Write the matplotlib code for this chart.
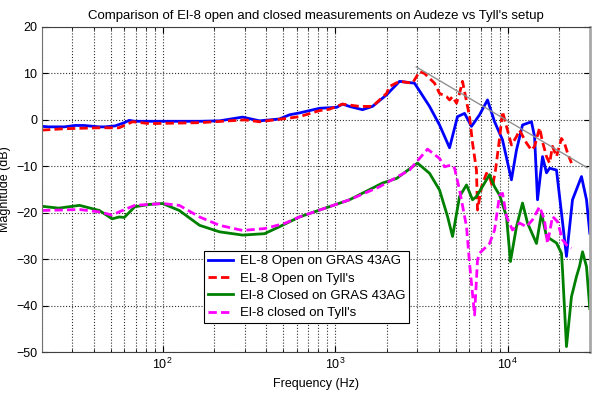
import matplotlib
matplotlib.use('Agg')

import matplotlib.pyplot as plt
from matplotlib.ticker import LogLocator, NullFormatter, MultipleLocator

plt.rcParams.update({
    'font.family': 'Liberation Sans',
    'font.size': 9,
    'mathtext.default': 'regular',
})

# --- данные (частота в Гц, уровень в дБ) ---
open_gras_f = [20, 22, 27, 31, 35, 43, 46, 53, 60, 64, 69, 100, 164, 214, 291,
               365, 476, 545, 622, 813, 1021, 1105, 1213, 1443, 1649, 1990, 2366,
               2890, 3532, 4036, 4613, 5129, 5636, 6182, 6886, 7656, 8414, 9354,
               10540, 11270, 12220, 13770, 14350, 14930, 15960, 16830, 17530,
               19230, 20550, 21970, 23810, 26850, 28710, 30000]
open_gras_db = [-1.4, -1.5, -1.5, -1.2, -1.2, -1.5, -1.5, -1.3, -0.6, -0.1, -0.3,
                -0.3, -0.3, -0.2, 0.6, -0.2, 0.2, 1.1, 1.5, 2.5, 2.7, 3.4, 2.9,
                2.2, 2.9, 5.4, 8.3, 7.9, 2.9, -1.1, -6.0, 0.7, 1.4, -1.4, 1.1, 4.3,
                -0.4, -4.3, -12.9, -6.5, -1.1, -0.4, -3.6, -17.2, -7.9, -11.4,
                -10.4, -10.8, -20.0, -29.4, -17.2, -12.2, -17.2, -24.4]

open_tyll_f = [20, 27, 43, 56, 67, 84, 164, 299, 365, 545, 622, 813, 929, 1105,
               1387, 1649, 1990, 2070, 2366, 2812, 3090, 3303, 3776, 4036, 4431,
               4613, 4801, 5063, 5272, 5483, 5714, 6025, 6270, 6607, 6699, 7070,
               7551, 7870, 8186, 8519, 8994, 9354, 9865, 10540, 11270, 11740,
               12890, 13770, 14350, 15340, 15960, 16830, 17530, 18240, 19230,
               20550, 21390, 22280, 23480]
open_tyll_db = [-2.2, -1.9, -1.7, -1.7, -0.4, -0.8, -0.6, 0.0, -0.4, 0.4, 0.7,
                2.0, 2.3, 3.4, 2.9, 2.9, 5.7, 7.2, 8.3, 7.9, 10.4, 10.0, 7.9, 5.7,
                5.0, 4.3, 5.0, 3.6, 5.7, 8.3, 5.0, 0.7, -5.0, -10.8, -19.4, -14.4,
                -11.5, -12.2, -14.4, -10.8, -4.0, 1.8, -1.4, -5.4, -3.6, -2.2,
                -5.0, -6.5, -5.7, -1.7, -4.7, -7.9, -9.3, -5.7, -7.9, -4.0, -5.0,
                -7.1, -9.3]

closed_gras_f = [20, 25, 33, 43, 51, 56, 60, 69, 84, 100, 125, 164, 214, 291,
                 390, 476, 622, 1213, 1884, 2275, 3007, 3532, 4036, 4492, 4801,
                 5272, 5786, 6270, 6607, 7870, 8414, 8994, 9865, 10400, 11270,
                 12220, 13060, 14720, 15740, 16830, 17990, 19230, 20550, 20840,
                 21970, 23480, 25120, 26160, 27230, 28710, 30000]
closed_gras_db = [-18.6, -19.0, -18.4, -19.5, -21.3, -20.9, -21.0, -18.7, -18.2,
                  -18.0, -19.5, -22.7, -24.1, -24.8, -24.5, -23.0, -20.9, -17.2,
                  -13.6, -12.6, -9.3, -11.5, -15.1, -20.8, -25.1, -16.5, -14.0,
                  -17.2, -16.5, -11.8, -14.4, -16.2, -20.8, -30.5, -23.0, -17.9,
                  -22.2, -26.6, -20.1, -25.1, -25.8, -26.5, -28.7, -32.3, -48.8,
                  -38.1, -33.7, -31.5, -28.4, -31.6, -40.6]

closed_tyll_f = [20, 33, 43, 51, 56, 69, 100, 125, 164, 214, 291, 390, 509, 622,
                 1213, 1811, 2704, 3436, 4036, 4316, 4735, 4932, 5272, 5786, 6025,
                 6442, 6699, 6886, 7870, 8414, 8994, 9354, 9865, 10690, 11740,
                 12890, 13960, 15340, 16380, 17060, 18240, 19500, 20840, 21970,
                 23480]
closed_tyll_db = [-19.5, -19.3, -19.8, -20.5, -19.8, -18.4, -18.0, -18.4, -20.9,
                  -22.7, -23.8, -23.4, -22.3, -20.9, -17.2, -14.4, -10.8, -6.3,
                  -8.3, -10.1, -9.7, -10.4, -15.1, -23.0, -30.9, -42.0, -30.2,
                  -28.7, -26.6, -23.7, -16.2, -15.8, -20.8, -23.7, -22.2, -23.0,
                  -21.5, -18.7, -21.5, -26.6, -20.8, -21.9, -25.8, -26.9, -27.6]

trend_f = [2960, 29000]
trend_db = [11.4, -10.3]

fig, ax = plt.subplots(figsize=(6.0, 3.97), dpi=100)
fig.subplots_adjust(left=0.07, right=0.983, bottom=0.113, top=0.932)

ax.semilogx(open_gras_f, open_gras_db, '-', color='#0000ff', lw=2,
            label='EL-8 Open on GRAS 43AG')
ax.semilogx(open_tyll_f, open_tyll_db, '--', color='#ff0000', lw=2,
            dashes=(3, 1.5), label="EL-8 Open on Tyll's")
ax.semilogx(closed_gras_f, closed_gras_db, '-', color='#008000', lw=2,
            label='El-8 Closed on GRAS 43AG')
ax.semilogx(closed_tyll_f, closed_tyll_db, '--', color='#ff00ff', lw=2,
            dashes=(3, 1.5), label="El-8 closed on Tyll's")
ax.semilogx(trend_f, trend_db, '-', color='#909090', lw=1)

ax.set_xlim(20, 30000)
ax.set_ylim(-50, 20)
ax.yaxis.set_major_locator(MultipleLocator(10))
ax.xaxis.set_major_locator(LogLocator(base=10))
ax.xaxis.set_minor_locator(LogLocator(base=10, subs=range(2, 10)))
ax.xaxis.set_minor_formatter(NullFormatter())

# сетка в стиле MATLAB
ax.grid(True, which='major', linestyle=':', color='#303030', lw=0.8)
ax.grid(True, which='minor', axis='x', linestyle=':', color='#303030', lw=0.8)
ax.tick_params(which='both', direction='in', top=True, right=True)
ax.tick_params(which='major', length=4)
ax.tick_params(which='minor', length=2)

ax.spines['left'].set_color('#707070')
ax.spines['top'].set_color('#404040')
ax.spines['bottom'].set_color('#404040')
ax.spines['right'].set_color('#a8a8a8')
ax.spines['right'].set_linewidth(2)

ax.set_title("Comparison of El-8 open and closed measurements on Audeze vs Tyll's setup",
             fontsize=9.5, pad=6)
ax.set_xlabel('Frequency (Hz)', fontsize=9)
ax.set_ylabel('Magnitude (dB)', fontsize=9)
ax.yaxis.set_label_coords(-0.056, 0.5)

leg = ax.legend(loc='lower left', bbox_to_anchor=(0.296, 0.089), borderaxespad=0,
                fancybox=False, edgecolor='black', framealpha=1, fontsize=9.5,
                handlelength=1.9, handletextpad=0.5, labelspacing=0.38,
                borderpad=0.3)
leg.get_frame().set_linewidth(0.8)

plt.savefig('out.png', dpi=100)
